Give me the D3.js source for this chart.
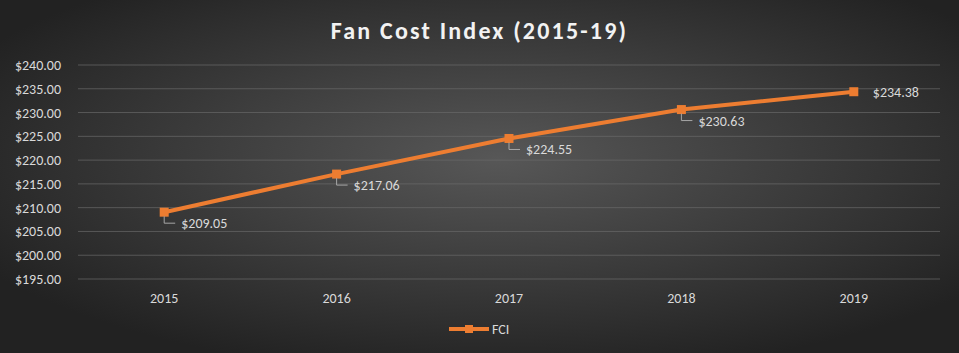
<!DOCTYPE html>
<html>
<head>
<meta charset="utf-8">
<script src="https://cdn.jsdelivr.net/npm/d3@7"></script>
<style>
  body { margin: 0; background: #2b2b2b; }
  svg { display: block; }
</style>
</head>
<body>
<svg id="chart" width="959" height="353"></svg>
<script>
// chart data
const years = ["2015", "2016", "2017", "2018", "2019"];
const fci = [209.05, 217.06, 224.55, 230.63, 234.38];
const yTicks = [195, 200, 205, 210, 215, 220, 225, 230, 235, 240];
const seriesName = "FCI";
const title = "Fan Cost Index (2015-19)";

const W = 959, H = 353;
const margin = { top: 65, right: 19, bottom: 74, left: 78 };
const font = "Calibri, Carlito, 'Open Sans', sans-serif";

const svg = d3.select("#chart");

// background gradient
const defs = svg.append("defs");
const grad = defs.append("radialGradient")
  .attr("id", "bg")
  .attr("cx", "52%").attr("cy", "45%").attr("r", "62%");
grad.append("stop").attr("offset", "0%").attr("stop-color", "#575757");
grad.append("stop").attr("offset", "100%").attr("stop-color", "#222222");
svg.append("rect").attr("width", W).attr("height", H).attr("fill", "url(#bg)");

const x = d3.scaleBand()
  .domain(years)
  .range([margin.left, W - margin.right]);
const y = d3.scaleLinear()
  .domain([195, 240])
  .range([H - margin.bottom, margin.top]);

// gridlines
svg.append("g")
  .selectAll("line")
  .data(yTicks)
  .join("line")
  .attr("x1", margin.left)
  .attr("x2", W - margin.right)
  .attr("y1", (d) => y(d))
  .attr("y2", (d) => y(d))
  .attr("stroke", "#6a6a6a")
  .attr("stroke-opacity", 0.7)
  .attr("stroke-width", 1);

// y axis
const yAxis = svg.append("g")
  .attr("transform", `translate(${margin.left - 14},0)`)
  .call(d3.axisLeft(y).tickValues(yTicks).tickSize(0).tickFormat((d) => "$" + d.toFixed(2)));
yAxis.select(".domain").remove();
yAxis.selectAll("text")
  .attr("fill", "#d9d9d9")
  .style("font-family", font)
  .style("font-size", "14px");

// x axis
const xAxis = svg.append("g")
  .attr("transform", `translate(0,${H - margin.bottom + 11})`)
  .call(d3.axisBottom(x).tickSize(0));
xAxis.select(".domain").remove();
xAxis.selectAll("text")
  .attr("fill", "#d9d9d9")
  .style("font-family", font)
  .style("font-size", "14px");

// title
svg.append("text")
  .attr("x", W / 2)
  .attr("y", 39)
  .attr("text-anchor", "middle")
  .attr("fill", "#f2f2f2")
  .style("font-family", font)
  .style("font-size", "24px")
  .style("font-weight", "bold")
  .style("letter-spacing", "2.2px")
  .text(title);

const cx = (d, i) => x(years[i]) + x.bandwidth() / 2;

// line
const line = d3.line()
  .x((d, i) => cx(d, i))
  .y((d) => y(d));

svg.append("path")
  .datum(fci)
  .attr("d", line)
  .attr("fill", "none")
  .attr("stroke", "#ED7D31")
  .attr("stroke-width", 4)
  .attr("stroke-linejoin", "round");

// markers
svg.append("g")
  .selectAll("rect")
  .data(fci)
  .join("rect")
  .attr("x", (d, i) => cx(d, i) - 4.5)
  .attr("y", (d) => y(d) - 4.5)
  .attr("width", 9)
  .attr("height", 9)
  .attr("fill", "#ED7D31");

// leader lines for the first four labels
svg.append("g")
  .selectAll("path")
  .data(fci.slice(0, 4))
  .join("path")
  .attr("d", (d, i) => {
    const px = cx(d, i), py = y(d);
    return `M${px},${py + 4} V${py + 11} H${px + 11}`;
  })
  .attr("fill", "none")
  .attr("stroke", "#a6a6a6")
  .attr("stroke-width", 1);

// data labels
svg.append("g")
  .selectAll("text")
  .data(fci)
  .join("text")
  .attr("x", (d, i) => cx(d, i) + (i === 4 ? 19 : 17))
  .attr("y", (d, i) => y(d) + (i === 4 ? 5 : 16))
  .attr("fill", "#d9d9d9")
  .style("font-family", font)
  .style("font-size", "14px")
  .text((d) => "$" + d.toFixed(2));

// legend
const lg = svg.append("g").attr("transform", "translate(449,329)");
lg.append("line")
  .attr("x1", 0).attr("x2", 40)
  .attr("stroke", "#ED7D31").attr("stroke-width", 4);
lg.append("rect")
  .attr("x", 16).attr("y", -4).attr("width", 8).attr("height", 8)
  .attr("fill", "#ED7D31");
lg.append("text")
  .attr("x", 43).attr("y", 5)
  .attr("fill", "#d9d9d9")
  .style("font-family", font)
  .style("font-size", "14px")
  .text(seriesName);
</script>
</body>
</html>
